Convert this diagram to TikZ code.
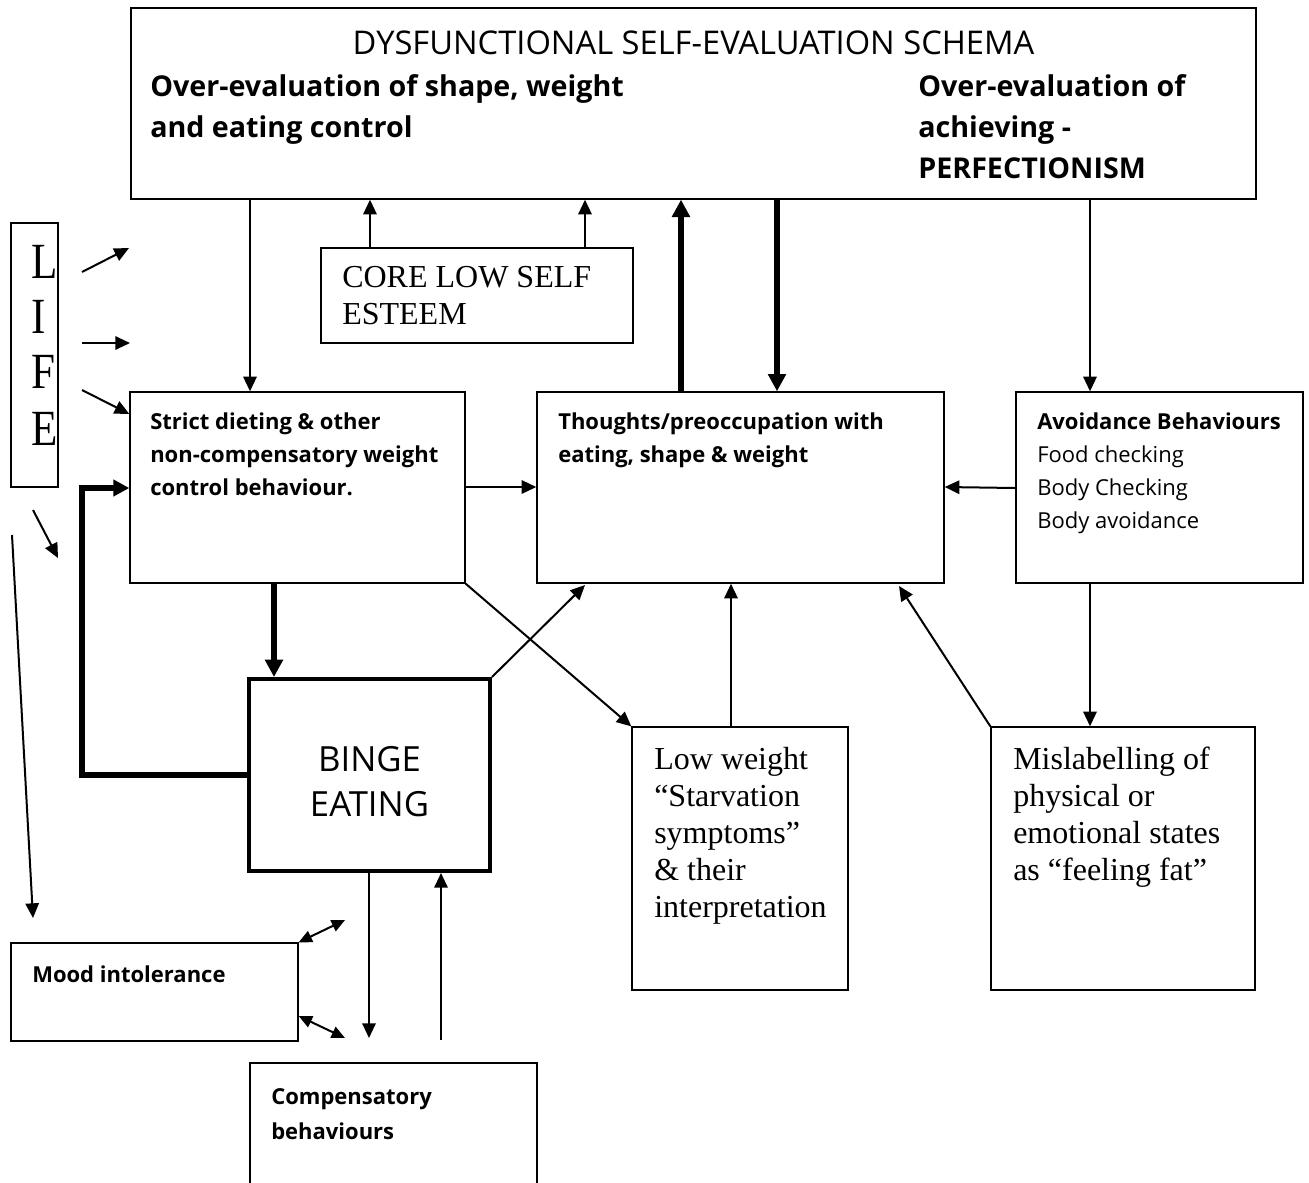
\documentclass[tikz,border=0pt]{standalone}
\usepackage{fontspec}
\usepackage{graphicx}
\setmainfont{Liberation Serif}
\newfontfamily\comic{Open Sans}
\usetikzlibrary{arrows.meta,fit}
\begin{document}
\begin{tikzpicture}[x=0.75pt,y=-0.75pt,
  bx/.style={draw, line width=1pt, inner sep=0pt},
  thickbx/.style={draw, line width=3pt, inner sep=0pt},
  arr/.style={line width=1.5pt, -{Triangle[length=11pt,width=10pt]}},
  darr/.style={line width=1.5pt, {Triangle[length=10pt,width=9pt]}-{Triangle[length=10pt,width=9pt]}},
  tarr/.style={line width=4.5pt, -{Triangle[length=13pt,width=13pt]}},
  tline/.style={line width=3.8pt, -{Triangle[length=12pt,width=12pt]}},
  body/.style={inner sep=0pt, anchor=north west, align=left, font=\comic\fontsize{16.5}{24.75}\selectfont},
  topt/.style={inner sep=0pt, anchor=north west, align=left, font=\comic\bfseries\fontsize{21.5}{30.75}\selectfont},
  serif/.style={inner sep=0pt, anchor=north west, align=left, font=\fontsize{24}{27.75}\selectfont},
  lifel/.style={inner sep=0pt, anchor=base west, font=\fontsize{38}{38}\selectfont}
]
\useasboundingbox (0,0) rectangle (1309,1182);
\clip (0,0) rectangle (1309,1182);
\fill[white] (0,0) rectangle (1309,1182);

% boxes
\node[bx, fit={(131,8)(1256,199)}] (top) {};
\node[bx, fit={(11,223)(58,487)}] (life) {};
\node[bx, fit={(321,248)(633,343)}] (core) {};
\node[bx, fit={(130,392)(465,583)}] (sd) {};
\node[bx, fit={(537,392)(944,583)}] (th) {};
\node[bx, fit={(1016,392)(1303,583)}] (av) {};
\node[thickbx, fit={(249,679)(490,871)}] (binge) {};
\node[bx, fit={(632,727)(848,990)}] (lw) {};
\node[bx, fit={(991,727)(1255,990)}] (ml) {};
\node[bx, fit={(11,943)(298,1041)}] (mood) {};
\node[bx, fit={(250,1063)(537,1195)}] (comp) {};

% texts
\node[anchor=base, inner sep=0pt, font=\comic\fontsize{24.5}{28}\selectfont] (title) at (693.5,54) {DYSFUNCTIONAL SELF-EVALUATION SCHEMA};
\node[topt] (tl) at (150,68) {\strut Over-evaluation of shape, weight\\and eating control};
\node[topt] (tr) at (918,68) {\strut Over-evaluation of\\achieving -\\PERFECTIONISM};
\node[inner sep=0pt, anchor=north west, align=left, font=\fontsize{24}{27.5}\selectfont] (coret) at (342,262) {\strut CORE LOW SELF\\ESTEEM};
\node[body, font=\comic\bfseries\fontsize{16.5}{24.75}\selectfont] (sdt) at (150,406) {\strut Strict dieting \& other\\non-compensatory weight\\control behaviour.};
\node[body, font=\comic\bfseries\fontsize{16.5}{24.75}\selectfont] (tht) at (558,406) {\strut Thoughts/preoccupation with\\eating, shape \& weight};
\node[body] (avt) at (1037,406) {\strut\textbf{Avoidance Behaviours}\\Food checking\\Body Checking\\Body avoidance};
\node[inner sep=0pt, anchor=north, align=center, font=\comic\fontsize{26}{33.75}\selectfont] (bt) at (369.5,740) {\strut BINGE\\EATING};
\node[serif] (lwt) at (654,743) {\strut Low weight\\“Starvation\\symptoms”\\\& their\\interpretation};
\node[serif] (mlt) at (1013,743) {\strut Mislabelling of\\physical or\\emotional states\\as “feeling fat”};
\node[body, font=\comic\bfseries\fontsize{16.5}{24.75}\selectfont] (moodt) at (32,959) {\strut Mood intolerance};
\node[body, font=\comic\bfseries\fontsize{16.5}{26.25}\selectfont] (compt) at (271,1080) {\strut Compensatory\\behaviours};

\node[lifel] (lL) at (31,278) {\scalebox{0.85}[1]{L}};
\node[lifel] (lI) at (31,333) {\scalebox{0.85}[1]{I}};
\node[lifel] (lF) at (31,388) {\scalebox{0.85}[1]{F}};
\node[lifel] (lE) at (31,445) {\scalebox{0.85}[1]{E}};

% free coordinates
\coordinate (a1s) at (82,272); \coordinate (a1e) at (129,248);
\coordinate (a2s) at (82,343); \coordinate (a2e) at (130,343);
\coordinate (a3s) at (82,390);
\coordinate (a4s) at (33,510); \coordinate (a4e) at (58,558);
\coordinate (a5s) at (12,535); \coordinate (a5e) at (33,918);
\coordinate (bd) at (369,1038);
\coordinate (bu) at (441,1040);
\coordinate (d1) at (345,920);
\coordinate (d2) at (345,1038);

% connectors
\draw[arr] (250,0 |- top.south) -- (250,0 |- sd.north);
\draw[arr] (370,0 |- core.north) -- (370,0 |- top.south);
\draw[arr] (585,0 |- core.north) -- (585,0 |- top.south);
\draw[tarr] (681,0 |- th.north) -- (681,0 |- top.south);
\draw[tarr] (777,0 |- top.south) -- (777,0 |- th.north);
\draw[arr] (1090,0 |- top.south) -- (1090,0 |- av.north);
\draw[arr] (sd.east |- 0,487) -- (th.west |- 0,487);
\draw[arr] (av.west |- 0,488) -- (th.east |- 0,487);
\draw[tarr, line width=4pt] (274,0 |- sd.south) -- (274,0 |- binge.north);
\draw[arr] (sd.south east) -- (lw.north west);
\draw[arr] (binge.north east) -- (585,585);
\draw[arr] (731,0 |- lw.north) -- (731,0 |- th.south);
\draw[arr] (ml.north west) -- (899,586);
\draw[arr] (1090,0 |- av.south) -- (1090,0 |- ml.north);
\draw[tline] (binge.west |- 0,775) -| (82,488) -- (sd.west |- 0,488);
\draw[arr] (a1s) -- (a1e);
\draw[arr] (a2s) -- (a2e);
\draw[arr] (a3s) -- (sd.west |- 0,414);
\draw[arr] (a4s) -- (a4e);
\draw[arr] (a5s) -- (a5e);
\draw[arr] (369,0 |- binge.south) -- (bd);
\draw[arr] (bu) -- (441,0 |- binge.south);
\draw[darr] (mood.north east) -- (d1);
\draw[darr] (mood.east |- 0,1016) -- (d2);
\end{tikzpicture}
\end{document}
